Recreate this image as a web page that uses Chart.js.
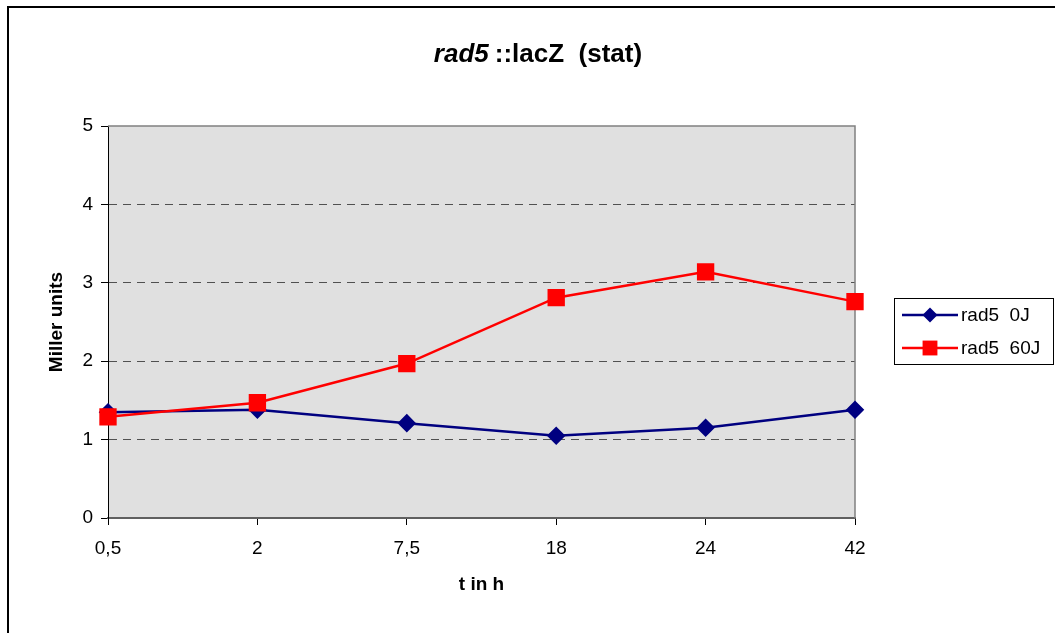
<!DOCTYPE html>
<html>
<head>
<meta charset="utf-8">
<script src="https://cdn.jsdelivr.net/npm/chart.js@4/dist/chart.umd.min.js"></script>
<style>
  html, body { margin:0; padding:0; background:#fff; overflow:hidden; }
  #wrap { width:1055px; height:633px; }
</style>
</head>
<body>
<div id="wrap"><canvas id="chart" width="1055" height="633"></canvas></div>
<script>
// data
const timeLabels = ["0,5", "2", "7,5", "18", "24", "42"];
const rad5_0J = [1.35, 1.38, 1.21, 1.05, 1.15, 1.38];
const rad5_60J = [1.29, 1.47, 1.97, 2.81, 3.14, 2.76];
const yTicks = [0, 1, 2, 3, 4, 5];

const FONT = "'Liberation Sans', Arial, sans-serif";

// white page, outer frame and grey plot area
const backdrop = {
  id: "backdrop",
  beforeDraw(chart){
    const ctx = chart.ctx, a = chart.chartArea;
    ctx.save();
    ctx.fillStyle = "#fff";
    ctx.fillRect(0, 0, chart.width, chart.height);
    ctx.lineWidth = 2;
    ctx.strokeStyle = "#000";
    ctx.strokeRect(8, 7, chart.width + 50, chart.height + 50);
    ctx.fillStyle = "#e0e0e0";
    ctx.fillRect(a.left, a.top, a.right - a.left, a.bottom - a.top);
    ctx.restore();
  },
  beforeDatasetsDraw(chart){
    // grey top / right edge of plot area
    const ctx = chart.ctx, a = chart.chartArea;
    ctx.save();
    ctx.strokeStyle = "#808080";
    ctx.lineWidth = 1.5;
    ctx.beginPath();
    ctx.moveTo(a.left, a.top);
    ctx.lineTo(a.right, a.top);
    ctx.lineTo(a.right, a.bottom);
    ctx.stroke();
    ctx.restore();
  }
};

// title with italic gene name
const titlePlugin = {
  id: "mixedTitle",
  afterDraw(chart){
    const ctx = chart.ctx;
    const cx = 538, base = 62, gap = 6;
    const p1 = "rad5", p2 = "::lacZ  (stat)";
    ctx.save();
    ctx.fillStyle = "#000";
    ctx.textBaseline = "alphabetic";
    ctx.font = "italic bold 26px " + FONT;
    const w1 = ctx.measureText(p1).width;
    ctx.font = "bold 26px " + FONT;
    const w2 = ctx.measureText(p2).width;
    let x = cx - (w1 + gap + w2) / 2;
    ctx.font = "italic bold 26px " + FONT;
    ctx.fillText(p1, x, base);
    ctx.font = "bold 26px " + FONT;
    ctx.fillText(p2, x + w1 + gap, base);
    ctx.restore();
  }
};

// legend box on the right
const legendPlugin = {
  id: "sideLegend",
  afterDraw(chart){
    const ctx = chart.ctx;
    const bx = 894, by = 298, bw = 159, bh = 66;
    ctx.save();
    ctx.fillStyle = "#fff";
    ctx.fillRect(bx, by, bw, bh);
    ctx.strokeStyle = "#000";
    ctx.lineWidth = 1;
    ctx.strokeRect(bx + 0.5, by + 0.5, bw, bh);
    chart.data.datasets.forEach((ds, i) => {
      const y = by + 17 + i * 33;
      ctx.strokeStyle = ds.borderColor;
      ctx.lineWidth = ds.borderWidth;
      ctx.beginPath();
      ctx.moveTo(902, y);
      ctx.lineTo(958, y);
      ctx.stroke();
      ctx.fillStyle = ds.pointBackgroundColor;
      ctx.beginPath();
      if(ds.pointStyle === "rectRot"){
        const r = ds.pointRadius;
        ctx.moveTo(930, y - r); ctx.lineTo(930 + r, y); ctx.lineTo(930, y + r); ctx.lineTo(930 - r, y);
      } else {
        const s = ds.pointRadius * Math.SQRT1_2;
        ctx.rect(930 - s, y - s, 2 * s, 2 * s);
      }
      ctx.closePath();
      ctx.fill();
      ctx.fillStyle = "#000";
      ctx.font = "19px " + FONT;
      ctx.textBaseline = "middle";
      ctx.fillText(ds.label, 961, y + 1);
    });
    ctx.restore();
  }
};

new Chart(document.getElementById("chart"), {
  type: "line",
  data: {
    labels: timeLabels,
    datasets: [
      {
        label: "rad5  0J",
        data: rad5_0J,
        borderColor: "#000080",
        backgroundColor: "#000080",
        pointBackgroundColor: "#000080",
        pointBorderColor: "#000080",
        pointStyle: "rectRot",
        pointRadius: 7.5,
        borderWidth: 2.5,
        tension: 0,
        fill: false,
        order: 1
      },
      {
        label: "rad5  60J",
        data: rad5_60J,
        borderColor: "#ff0000",
        backgroundColor: "#ff0000",
        pointBackgroundColor: "#ff0000",
        pointBorderColor: "#ff0000",
        pointStyle: "rect",
        pointRadius: 10.5,
        borderWidth: 2.5,
        tension: 0,
        fill: false,
        order: 0
      }
    ]
  },
  options: {
    responsive: false,
    animation: false,
    layout: { padding: { left: 0, right: 200, top: 126, bottom: 0 } },
    plugins: {
      legend: { display: false },
      title: { display: false },
      tooltip: { enabled: false }
    },
    scales: {
      x: {
        type: "category",
        offset: false,
        afterFit(scale){ scale.height = 115; },
        grid: { drawOnChartArea: false, drawTicks: true, tickLength: 7, tickColor: "#000", tickWidth: 1 },
        border: { display: true, color: "#606060", width: 2 },
        ticks: { color: "#000", font: { family: FONT, size: 19 }, padding: 12, maxRotation: 0 },
        title: {
          display: true, text: "t in h", color: "#000",
          font: { family: FONT, size: 19, weight: "bold" },
          padding: { top: 0, bottom: 37 }
        }
      },
      y: {
        min: yTicks[0],
        max: yTicks[yTicks.length - 1],
        afterFit(scale){ scale.width = 108; },
        afterBuildTicks(scale){ scale.ticks = yTicks.map(v => ({ value: v })); },
        grid: {
          color: c => (c.tick && (c.tick.value === 0 || c.tick.value === 5)) ? "rgba(0,0,0,0)" : "#505050",
          lineWidth: 1,
          tickLength: 7,
          tickColor: "#000",
          tickWidth: 1
        },
        border: { display: true, color: "#000", width: 1, dash: [8, 6] },
        ticks: { color: "#000", font: { family: FONT, size: 19 }, padding: 8 },
        title: {
          display: true, text: "Miller units", color: "#000",
          font: { family: FONT, size: 19, weight: "bold" },
          padding: { top: 45, bottom: 0 }
        }
      }
    }
  },
  plugins: [backdrop, titlePlugin, legendPlugin]
});
</script>
</body>
</html>
